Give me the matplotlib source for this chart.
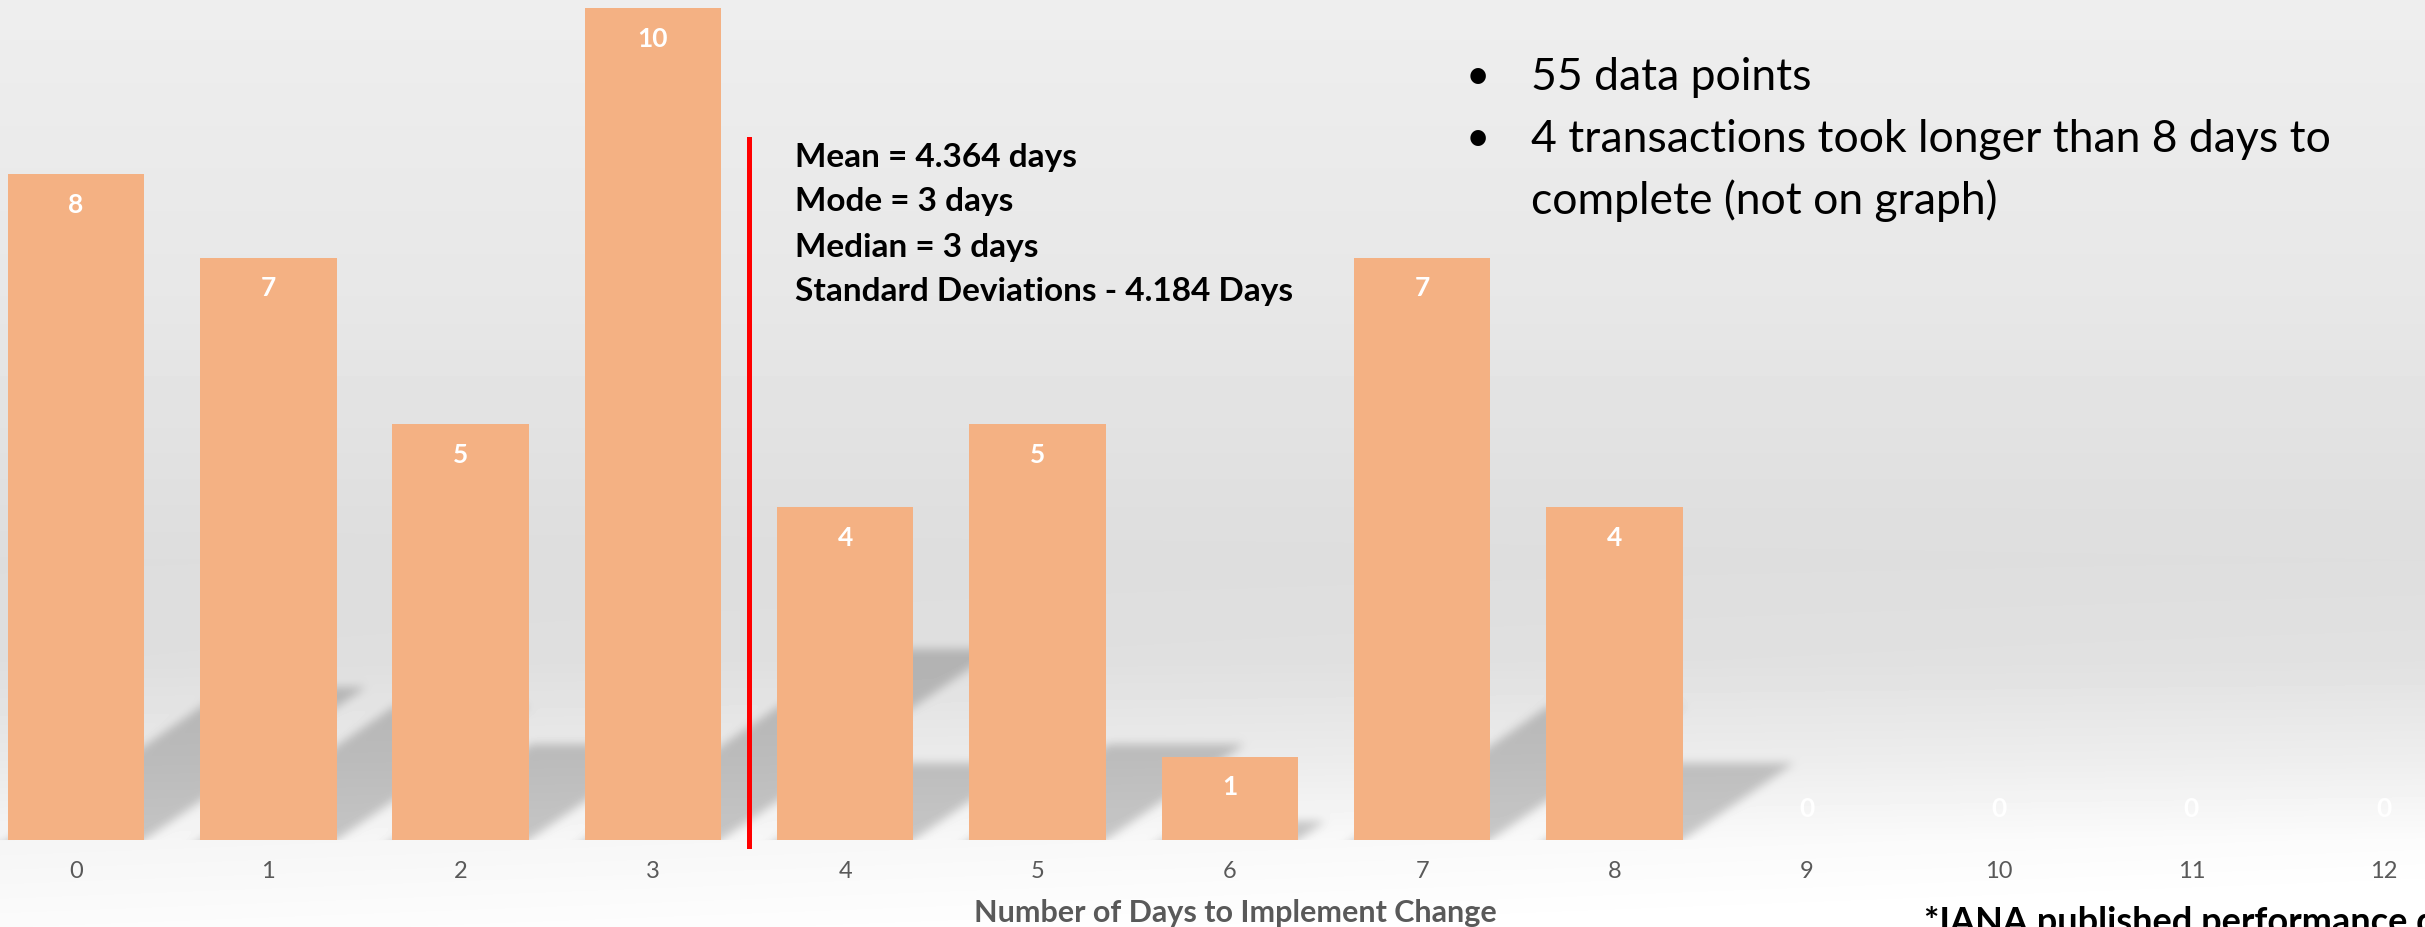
import numpy as np
import matplotlib.pyplot as plt

plt.rcParams['font.family'] = ['Lato', 'DejaVu Sans']

# data
days = list(range(13))
counts = [8, 7, 5, 10, 4, 5, 1, 7, 4, 0, 0, 0, 0]
stats_lines = ["Mean = 4.364 days", "Mode = 3 days", "Median = 3 days",
               "Standard Deviations - 4.184 Days"]
note_lines = [("55 data points", True),
              ("4 transactions took longer than 8 days to", True),
              ("complete (not on graph)", False)]
xlabel = "Number of Days to Implement Change"
footnote = "*IANA published performance data"
divider_x = 3.5
divider_top = 8.43

W, H = 2425, 927
fig = plt.figure(figsize=(W / 100, H / 100), dpi=100)

ax = fig.add_axes([0, 87 / H, 1, 840 / H], zorder=2)
ax.patch.set_alpha(0)
ax.set_xlim(-0.395, 12.215)
ax.set_ylim(0, 840 / 83.2)
bar_w = 0.71

# gradient background (pixel grid)
rows = np.arange(H)
col = np.interp(rows, [0, 300, 560, 660, 760, 840, 927],
                [238, 231, 221, 222, 233, 245, 251]) / 255
xs = np.linspace(0, 1, W)
img = col[:, None] + xs[None, :] * 0.025 * np.clip((rows[:, None] - 500) / 340, 0, 1)


def box_blur(a, r):
    for axis in (0, 1):
        pad = [(0, 0), (0, 0)]
        pad[axis] = (r + 1, r)
        c = np.cumsum(np.pad(a, pad, mode='edge'), axis=axis)
        if axis == 0:
            a = (c[2 * r + 1:] - c[:-2 * r - 1]) / (2 * r + 1)
        else:
            a = (c[:, 2 * r + 1:] - c[:, :-2 * r - 1]) / (2 * r + 1)
    return a


# skewed "perspective" shadows, placed with the axes transform
yy = rows[:, None] + 0.5
xx = np.arange(W)[None, :] + 0.5
base_row = H - ax.transData.transform((0, 0))[1]
shadow = np.zeros((H, W))
for x, v in zip(days, counts):
    if v == 0:
        continue
    left = ax.transData.transform((x - bar_w / 2, 0))[0]
    right = ax.transData.transform((x + bar_w / 2, 0))[0]
    top = H - ax.transData.transform((0, 0.23 * v))[1]
    shift = (base_row - yy) * 1.45
    inside = ((yy >= top) & (yy <= base_row + 12)
              & (xx >= left + shift) & (xx <= right + shift))
    shadow = np.maximum(shadow, inside)
for _ in range(3):
    shadow = box_blur(shadow, 4)
shadow[int(round(base_row)):] = 0
img = img * (1 - 0.2 * shadow)

bg = fig.add_axes([0, 0, 1, 1], zorder=0)
bg.set_axis_off()
bg.imshow(np.clip(img, 0, 1), cmap='gray', vmin=0, vmax=1, aspect='auto',
          interpolation='nearest')

ax.bar(days, counts, width=bar_w, color='#F4B183', zorder=3)

for x, v in zip(days, counts):
    ax.annotate(str(v), (x, v), xytext=(0, -22 if v > 0 else 22),
                textcoords='offset points', ha='center', va='center',
                color='white', fontweight='bold', fontsize=19, zorder=5,
                annotation_clip=False)

ax.plot([divider_x, divider_x], [-0.07, divider_top], color='red', lw=3.6,
        clip_on=False, zorder=4)

ax.set_xticks(days)
ax.set_xticklabels([str(d) for d in days])
ax.tick_params(axis='x', length=0, pad=15, labelsize=17, labelcolor='#595959')
ax.set_yticks([])
for s in ax.spines.values():
    s.set_visible(False)

fig.text(1235 / W, 1 - 922 / H, xlabel, ha='center', va='baseline',
         fontsize=22, fontweight='bold', color='#595959')

for i, line in enumerate(stats_lines):
    fig.text(795 / W, 1 - (157 + 45 * i) / H, line, va='center',
             fontsize=24, fontweight='bold', color='black')

for i, (line, bullet) in enumerate(note_lines):
    y = 1 - (77 + 62 * i) / H
    if bullet:
        fig.text(1478 / W, y, '•', ha='center', va='center', fontsize=30)
    fig.text(1531 / W, y, line, va='center', fontsize=32, color='black')

fig.text(1924 / W, 1 - 933 / H, footnote, va='baseline', fontsize=26,
         fontweight='bold', color='black')

fig.savefig('out.png', dpi=100)
